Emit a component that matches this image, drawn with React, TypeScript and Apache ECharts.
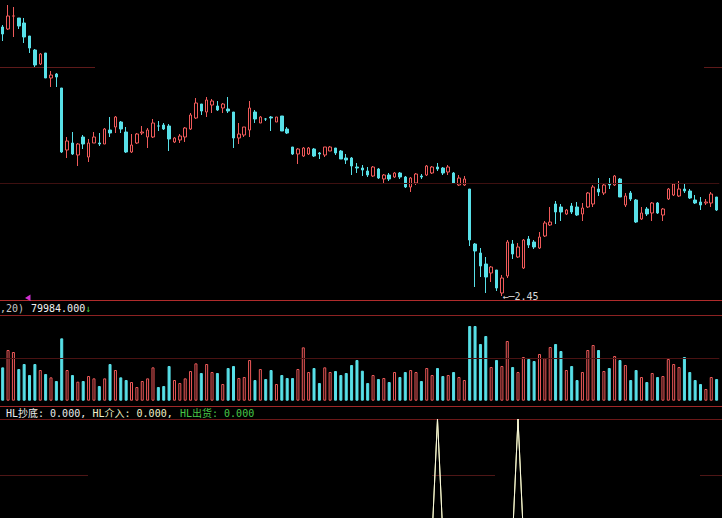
import React, { useEffect, useRef } from "react";
import * as echarts from "echarts";

// [open, close, lowest, highest]
const candles: [number, number, number, number][] = [
  [5.14, 5.07, 5.0, 5.16], [5.12, 5.25, 5.11, 5.36], [5.25, 5.25, 5.04, 5.34], [5.23, 5.15, 5.12, 5.23], [5.18, 5.04, 4.98, 5.23],
  [5.05, 4.93, 4.88, 5.05], [4.91, 4.76, 4.74, 4.92], [4.77, 4.87, 4.76, 4.88], [4.88, 4.63, 4.63, 4.88], [4.63, 4.66, 4.54, 4.7],
  [4.67, 4.64, 4.54, 4.68], [4.53, 3.89, 3.88, 4.53], [3.91, 4.0, 3.83, 4.04], [3.98, 3.87, 3.86, 4.09], [3.86, 3.97, 3.75, 3.98],
  [4.04, 3.97, 3.92, 4.06], [3.84, 3.98, 3.79, 4.02], [3.98, 4.04, 3.98, 4.09], [3.98, 3.97, 3.95, 4.08], [3.97, 4.12, 3.97, 4.13],
  [4.11, 4.08, 4.04, 4.24], [4.14, 4.24, 4.08, 4.25], [4.19, 4.12, 4.08, 4.2], [4.09, 3.89, 3.88, 4.14], [3.89, 3.96, 3.88, 4.07],
  [3.98, 4.07, 3.97, 4.08], [4.08, 4.09, 4.06, 4.15], [4.04, 4.11, 3.93, 4.13], [4.04, 4.18, 4.03, 4.22], [4.15, 4.15, 4.1, 4.2],
  [4.16, 4.12, 4.11, 4.18], [4.15, 4.02, 3.9, 4.17], [3.99, 4.03, 3.98, 4.04], [4.01, 4.05, 3.98, 4.07], [4.04, 4.13, 3.99, 4.14],
  [4.12, 4.26, 4.11, 4.28], [4.23, 4.38, 4.22, 4.43], [4.37, 4.3, 4.26, 4.37], [4.29, 4.41, 4.24, 4.44], [4.36, 4.4, 4.28, 4.42],
  [4.35, 4.31, 4.3, 4.4], [4.33, 4.37, 4.28, 4.38], [4.32, 4.3, 4.28, 4.44], [4.29, 4.03, 3.93, 4.29], [4.03, 4.07, 3.97, 4.18],
  [4.06, 4.14, 4.04, 4.14], [4.11, 4.33, 4.04, 4.4], [4.29, 4.22, 4.18, 4.31], [4.18, 4.24, 4.18, 4.25], [4.22, 4.22, 4.2, 4.23],
  [4.24, 4.23, 4.1, 4.25], [4.19, 4.24, 4.19, 4.24], [4.25, 4.1, 4.1, 4.25], [4.12, 4.08, 4.07, 4.14], [3.94, 3.87, 3.86, 3.94],
  [3.87, 3.92, 3.77, 3.93], [3.85, 3.93, 3.84, 3.94], [3.87, 3.93, 3.86, 3.94], [3.92, 3.85, 3.84, 3.93], [3.88, 3.87, 3.82, 3.89],
  [3.86, 3.94, 3.84, 3.94], [3.9, 3.94, 3.9, 3.95], [3.93, 3.88, 3.86, 3.93], [3.9, 3.82, 3.82, 3.91], [3.83, 3.81, 3.77, 3.87],
  [3.83, 3.75, 3.66, 3.84], [3.74, 3.73, 3.68, 3.78], [3.73, 3.71, 3.65, 3.76], [3.7, 3.66, 3.64, 3.74], [3.65, 3.74, 3.64, 3.75],
  [3.72, 3.63, 3.62, 3.73], [3.62, 3.66, 3.58, 3.67], [3.66, 3.62, 3.6, 3.68], [3.64, 3.68, 3.63, 3.69], [3.68, 3.64, 3.62, 3.69],
  [3.64, 3.54, 3.53, 3.65], [3.54, 3.63, 3.49, 3.64], [3.58, 3.67, 3.56, 3.68], [3.65, 3.64, 3.62, 3.67], [3.66, 3.75, 3.65, 3.76],
  [3.68, 3.74, 3.67, 3.75], [3.74, 3.72, 3.7, 3.78], [3.73, 3.68, 3.66, 3.74], [3.69, 3.74, 3.66, 3.76], [3.68, 3.58, 3.57, 3.69],
  [3.56, 3.63, 3.55, 3.66], [3.56, 3.62, 3.55, 3.65], [3.52, 3.01, 2.95, 3.52], [2.97, 2.9, 2.54, 2.98], [2.88, 2.75, 2.64, 2.93],
  [2.77, 2.64, 2.48, 2.84], [2.68, 2.74, 2.59, 2.75], [2.71, 2.53, 2.5, 2.71], [2.48, 2.63, 2.45, 2.66], [2.65, 2.99, 2.63, 3.01],
  [2.97, 2.87, 2.82, 3.01], [2.84, 2.94, 2.83, 2.98], [2.73, 3.01, 2.72, 3.02], [3.02, 2.96, 2.93, 3.05], [2.99, 2.94, 2.92, 3.01],
  [2.93, 3.04, 2.92, 3.09], [3.05, 3.18, 3.04, 3.2], [3.16, 3.19, 3.15, 3.34], [3.37, 3.29, 3.17, 3.4], [3.34, 3.29, 3.2, 3.37],
  [3.27, 3.31, 3.26, 3.32], [3.35, 3.29, 3.27, 3.38], [3.34, 3.26, 3.25, 3.39], [3.27, 3.33, 3.2, 3.38], [3.34, 3.48, 3.33, 3.49],
  [3.37, 3.54, 3.34, 3.56], [3.52, 3.49, 3.45, 3.63], [3.48, 3.56, 3.46, 3.57], [3.57, 3.56, 3.52, 3.63], [3.56, 3.65, 3.55, 3.66],
  [3.62, 3.44, 3.44, 3.63], [3.36, 3.45, 3.34, 3.48], [3.48, 3.42, 3.4, 3.5], [3.41, 3.19, 3.18, 3.42], [3.22, 3.28, 3.21, 3.34],
  [3.32, 3.27, 3.25, 3.34], [3.28, 3.38, 3.2, 3.39], [3.38, 3.28, 3.27, 3.39], [3.26, 3.32, 3.2, 3.33], [3.42, 3.52, 3.41, 3.53],
  [3.46, 3.57, 3.45, 3.58], [3.45, 3.52, 3.44, 3.6], [3.52, 3.5, 3.48, 3.57], [3.5, 3.43, 3.42, 3.52], [3.41, 3.38, 3.37, 3.46],
  [3.39, 3.36, 3.31, 3.44], [3.38, 3.39, 3.36, 3.42], [3.38, 3.47, 3.34, 3.49], [3.44, 3.31, 3.3, 3.44],
];

// volume, thousands of lots
const volumes: number[] = [
  100, 152, 146, 95, 110, 77, 110, 92, 80, 70,
  59, 187, 92, 77, 57, 59, 74, 67, 44, 67,
  110, 92, 70, 62, 56, 41, 59, 67, 100, 41,
  44, 104, 62, 53, 67, 89, 112, 83, 110, 86,
  83, 50, 98, 104, 68, 71, 122, 62, 95, 65,
  92, 50, 77, 68, 68, 95, 160, 86, 98, 53,
  100, 86, 89, 77, 83, 107, 122, 90, 53, 77,
  65, 68, 56, 86, 71, 86, 92, 86, 59, 98,
  77, 98, 74, 77, 86, 71, 62, 224, 224, 170,
  194, 101, 122, 104, 179, 101, 86, 131, 125, 119,
  140, 128, 161, 170, 149, 92, 104, 62, 86, 152,
  167, 152, 89, 98, 134, 122, 107, 62, 92, 71,
  56, 83, 71, 74, 125, 110, 101, 131, 86, 62,
  50, 35, 71, 65,
];

// HL indicator lines
const hlBottom: number[] = [
  0, 0, 0, 0, 0, 0, 0, 0, 0, 0, 0, 0, 0, 0, 0, 0, 0, 0, 0, 0,
  0, 0, 0, 0, 0, 0, 0, 0, 0, 0, 0, 0, 0, 0, 0, 0, 0, 0, 0, 0,
  0, 0, 0, 0, 0, 0, 0, 0, 0, 0, 0, 0, 0, 0, 0, 0, 0, 0, 0, 0,
  0, 0, 0, 0, 0, 0, 0, 0, 0, 0, 0, 0, 0, 0, 0, 0, 0, 0, 0, 0,
  0, 100, 0, 0, 0, 0, 0, 0, 0, 0, 0, 0, 0, 0, 0, 0, 100, 0, 0, 0,
  0, 0, 0, 0, 0, 0, 0, 0, 0, 0, 0, 0, 0, 0, 0, 0, 0, 0, 0, 0,
  0, 0, 0, 0, 0, 0, 0, 0, 0, 0, 0, 0, 0, 0,
];
const hlEntry: number[] = [
  0, 0, 0, 0, 0, 0, 0, 0, 0, 0, 0, 0, 0, 0, 0, 0, 0, 0, 0, 0,
  0, 0, 0, 0, 0, 0, 0, 0, 0, 0, 0, 0, 0, 0, 0, 0, 0, 0, 0, 0,
  0, 0, 0, 0, 0, 0, 0, 0, 0, 0, 0, 0, 0, 0, 0, 0, 0, 0, 0, 0,
  0, 0, 0, 0, 0, 0, 0, 0, 0, 0, 0, 0, 0, 0, 0, 0, 0, 0, 0, 0,
  0, 100, 0, 0, 0, 0, 0, 0, 0, 0, 0, 0, 0, 0, 0, 0, 100, 0, 0, 0,
  0, 0, 0, 0, 0, 0, 0, 0, 0, 0, 0, 0, 0, 0, 0, 0, 0, 0, 0, 0,
  0, 0, 0, 0, 0, 0, 0, 0, 0, 0, 0, 0, 0, 0,
];
const hlSell: number[] = hlBottom.map(() => 0);

const priceGridLines = [3.58];
const volumeGridLines = [127];
const volLegend = [",20)", "79984.000", "↓"];
const hlLegend = ["HL抄底: 0.000,", "HL介入: 0.000,", "HL出货: 0.000"];

const categories = candles.map((_, i) => String(i + 1));

const RED = "#f05a5a";
const CYAN = "#58e0e8";
const MONO = '"DejaVu Sans Mono", "Noto Sans CJK SC", monospace';

function isUp(i: number): boolean {
  const [o, c] = candles[i];
  if (c > o) return true;
  if (c < o) return false;
  if (i === 0) return true;
  return candles[i - 1][1] <= c;
}

export default function App() {
  const ref = useRef<HTMLDivElement>(null);

  useEffect(() => {
    document.body.style.margin = "0";
    document.body.style.background = "#000";
    if (!ref.current) return;
    const chart = echarts.init(ref.current, undefined, { renderer: "svg" });

    const gridX = { left: -1.4, right: 2.7 };
    const hline = (y: number, x1: number, x2: number, color: string) => ({
      type: "line",
      silent: true,
      shape: { x1, y1: y, x2, y2: y },
      style: { stroke: color, lineWidth: 1 },
    });
    const txt = (text: string, x: number, y: number, fill: string, size = 10) => ({
      type: "text",
      silent: true,
      x,
      y,
      style: {
        text,
        fill,
        font: `${size}px ${MONO}`,
        textAlign: "left",
        textVerticalAlign: "middle",
        align: "left",
        verticalAlign: "middle",
      },
    });

    const option: any = {
      animation: false,
      backgroundColor: "#000",
      grid: [
        { ...gridX, top: 0, height: 300 },
        { ...gridX, top: 316, height: 84.7 },
        { ...gridX, top: 419, bottom: 0 },
      ],
      xAxis: [0, 1, 2].map((g) => ({
        type: "category",
        gridIndex: g,
        data: categories,
        boundaryGap: true,
        show: false,
      })),
      yAxis: [
        { type: "value", gridIndex: 0, min: 2.41, max: 5.41, show: false },
        { type: "value", gridIndex: 1, min: 0, max: 254, show: false },
        { type: "value", gridIndex: 2, min: 15, max: 100, show: false },
      ],
      series: [
        {
          type: "candlestick",
          xAxisIndex: 0,
          yAxisIndex: 0,
          data: candles,
          barWidth: 3,
          itemStyle: {
            color: "#000",
            color0: CYAN,
            borderColor: RED,
            borderColor0: CYAN,
            borderWidth: 1,
          },
          markLine: {
            silent: true,
            symbol: ["none", "none"],
            label: { show: false },
            lineStyle: { color: "#3e1010", width: 1, type: "solid" },
            data: priceGridLines.map((v) => ({ yAxis: v })),
          },
          markPoint: {
            silent: true,
            symbol: "circle",
            symbolSize: 1,
            itemStyle: { color: "rgba(0,0,0,0)" },
            label: {
              show: true,
              position: "right",
              distance: 0,
              color: "#d8d8d8",
              fontFamily: MONO,
              fontSize: 10,
              formatter: (p: any) => "←─" + Number(p.value).toFixed(2),
            },
            data: [{ type: "min", valueDim: "lowest" }],
          },
        },
        {
          type: "bar",
          xAxisIndex: 1,
          yAxisIndex: 1,
          barWidth: 3,
          data: volumes.map((v, i) =>
            isUp(i)
              ? { value: v, itemStyle: { color: "#000", borderColor: RED, borderWidth: 1 } }
              : { value: v, itemStyle: { color: CYAN, borderColor: CYAN, borderWidth: 1 } }
          ),
          markLine: {
            silent: true,
            symbol: ["none", "none"],
            label: { show: false },
            lineStyle: { color: "#4a1212", width: 1, type: "solid" },
            data: volumeGridLines.map((v) => ({ yAxis: v })),
          },
        },
        {
          type: "line",
          name: "HL出货",
          xAxisIndex: 2,
          yAxisIndex: 2,
          data: hlSell,
          showSymbol: false,
          lineStyle: { color: "#48c848", width: 1 },
        },
        {
          type: "line",
          name: "HL介入",
          xAxisIndex: 2,
          yAxisIndex: 2,
          data: hlEntry,
          showSymbol: false,
          lineStyle: { color: "#f0f0a0", width: 1 },
        },
        {
          type: "line",
          name: "HL抄底",
          xAxisIndex: 2,
          yAxisIndex: 2,
          data: hlBottom,
          showSymbol: false,
          lineStyle: { color: "#f6f6dc", width: 1 },
        },
      ],
      graphic: [
        hline(67.5, 0, 95, "#5e1a1a"),
        hline(67.5, 704, 722, "#5e1a1a"),
        hline(475.5, 0, 88, "#4e1616"),
        hline(475.5, 432, 495, "#4e1616"),
        hline(475.5, 700, 722, "#4e1616"),
        hline(300.5, 0, 722, "#b02c2c"),
        hline(315.5, 0, 722, "#8c2222"),
        hline(406.5, 0, 722, "#a02828"),
        hline(419.5, 0, 722, "#6a1818"),
        {
          type: "polygon",
          silent: true,
          shape: { points: [[25, 298], [30.5, 294.5], [30.5, 301]] },
          style: { fill: "#d030d0" },
        },
        txt(volLegend[0], 0, 308.5, "#c8c8c8"),
        txt(volLegend[1], 31, 308.5, "#f0f0f0"),
        txt(volLegend[2], 85, 308.5, "#40d040"),
        txt(hlLegend[0], 6, 413, "#ececec"),
        txt(hlLegend[1], 92.5, 413, "#f0f0c8"),
        txt(hlLegend[2], 180, 413, "#48c848"),
      ],
    };

    chart.setOption(option);
    return () => chart.dispose();
  }, []);

  return (
    <div
      ref={ref}
      style={{ position: "absolute", left: 0, top: 0, width: 722, height: 518, background: "#000" }}
    />
  );
}
